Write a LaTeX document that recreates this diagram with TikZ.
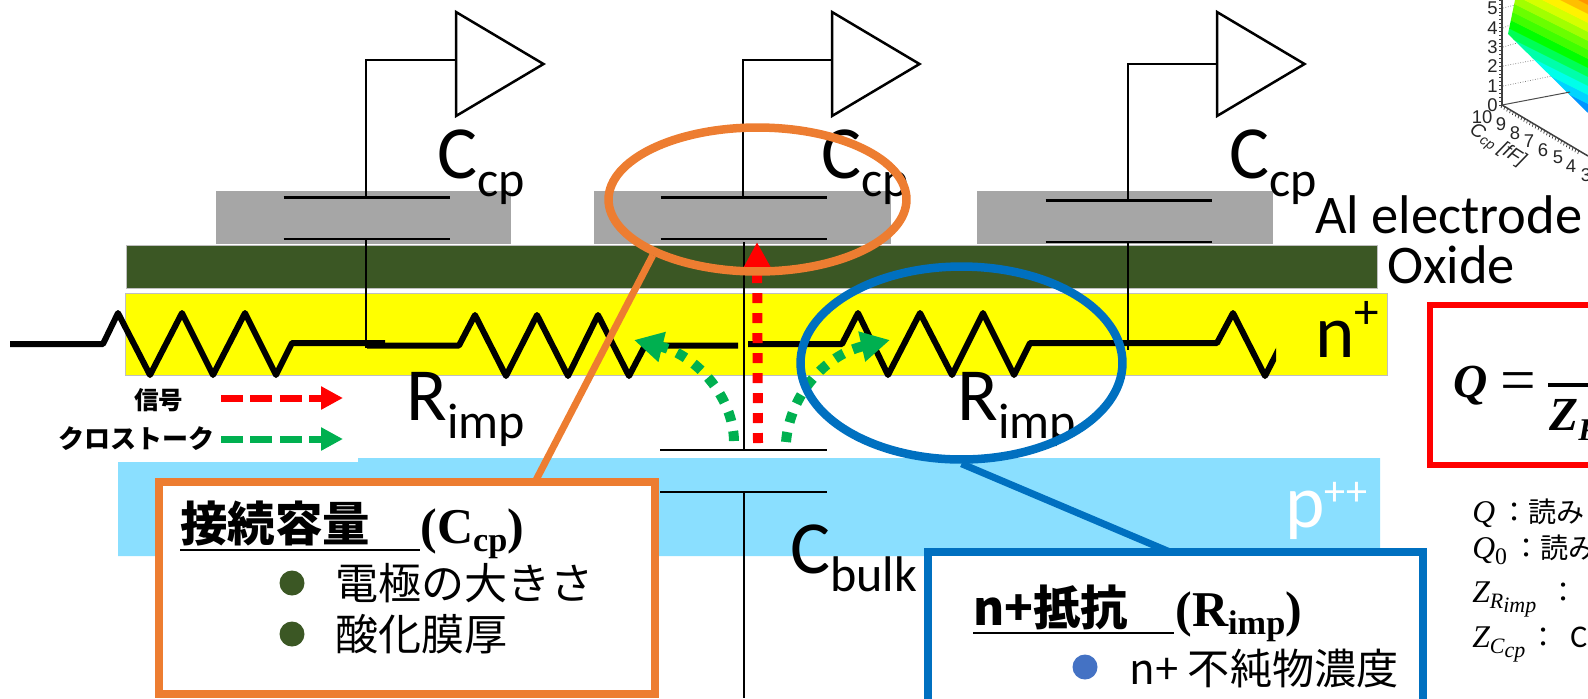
\documentclass[tikz,border=0pt]{standalone}
\usepackage{fontspec}
\setmainfont{Carlito}
\newfontfamily\jpface{Noto Sans CJK JP}
\newfontfamily\mathface{Liberation Serif}
\newfontfamily\plotface{Liberation Sans}
\usetikzlibrary{arrows.meta, shapes.geometric}
\definecolor{ringorange}{HTML}{ED7D31}
\definecolor{ringblue}{HTML}{0070C0}
\definecolor{oxidegreen}{HTML}{3B5724}
\definecolor{alugray}{HTML}{A6A6A6}
\definecolor{bulkblue}{HTML}{8ADFFF}
\definecolor{nplusyellow}{RGB}{255,255,0}
\definecolor{xtalkgreen}{HTML}{00B050}
\definecolor{dotblue}{HTML}{4472C4}
% text size in pt, drop in pt
\newcommand{\fsize}[1]{\fontsize{#1}{#1}\selectfont}
\newcommand{\dropped}[3]{\raisebox{-#1pt}{\fsize{#2}#3}}
\newcommand{\bigsub}[2]{{\fsize{42.7}#1}\dropped{10.8}{28.5}{#2}}
\tikzset{
  lab/.style={anchor=base west, inner sep=0pt, font=\fsize{31}},
  big/.style={anchor=base west, inner sep=0pt},
  plotnum/.style={inner sep=0pt, text=black!85, font=\plotface\fsize{10.5}},
  jpl/.style={anchor=west, inner sep=0pt, font=\jpface\fsize{24.5}},
  note/.style={anchor=base west, inner sep=0pt, font=\jpface\fsize{16}},
  notem/.style={anchor=base west, inner sep=0pt, font=\mathface\itshape\fsize{18}},
  head/.style={anchor=base west, inner sep=0pt, font=\jpface\bfseries\fsize{27}},
  headm/.style={anchor=base west, inner sep=0pt, font=\mathface\bfseries\fsize{28.5}},
  wire/.style={line width=0.05cm},
  zigzag/.style={line width=0.12cm, line join=round},
  dotted arrow/.style={line width=0.2cm, dash pattern=on 0.2cm off 0.2cm, -{Triangle[length=0.58cm,width=0.58cm]}},
  legend arrow/.style={line width=0.14cm, dash pattern=on 0.44cm off 0.15cm, -{Triangle[length=0.44cm,width=0.44cm]}},
  ring/.style={ellipse, draw, line width=0.17cm, inner sep=0pt},
  infobox/.style={rectangle, draw, fill=white, line width=0.17cm, anchor=north west, inner sep=0pt, outer sep=0pt},
  bullet/.style={circle, inner sep=0pt, minimum size=0.5cm}
}

\begin{document}
\begin{tikzpicture}[x=0.02cm, y=-0.02cm]
  \useasboundingbox (0,0) rectangle (1588,698);
  \clip (0,0) rectangle (1588,698);

  % --- Plot corner ---
  \begin{scope}
    \clip (1508,34) -- (1515,0) -- (1588,0) -- (1588,113) -- cycle;
    \foreach \bandy/\bandh in {73/205,64/190,55/175,46/160,37/140,28/120,19/105,10/95,1/82,-8/70,-17/57,-26/45,-35/35,-44/28} {
      \definecolor{bandc}{Hsb}{\bandh,1,1}
      \fill[bandc] (1500,\bandy-4) -- (1600,\bandy+46) -- (1600,\bandy+36.5) -- (1500,\bandy-13.5) -- cycle;
    }
  \end{scope}
  \draw[black!70, line width=0.02cm] (1502,105) -- (1570,92);
  \draw[black!75, line width=0.03cm] (1502,105) -- (1502,0);
  \draw[black!75, line width=0.03cm] (1502,105) -- (1588,156);
  \foreach \gridy/\gridx/\gride in {86/1552/76, 66/1535/60, 47/1517/43, 28/1510/25, 8/1515/5}
    \draw[black!50, line width=0.015cm, densely dotted] (1503,\gridy) -- (\gridx,\gride);
  \foreach \tk in {0,...,27} {
    \pgfmathsetmacro{\tky}{105-3.88*\tk}
    \draw[black!75, line width=0.015cm] (1502,\tky) -- (1499,\tky);
    \pgfmathsetmacro{\bx}{1502+2.84*\tk}
    \pgfmathsetmacro{\by}{105+1.7*\tk}
    \draw[black!75, line width=0.015cm] (\bx,\by) -- (\bx-1,\by+3);
  }
  \foreach \val/\valy in {0/105,1/86,2/66,3/47,4/28,5/8}
    \node[plotnum, anchor=east] (tick\val) at (1498,\valy) {\val};
  \node[plotnum] (base10) at (1482,117) {10};
  \node[plotnum] (base9) at (1501,124) {9};
  \node[plotnum] (base8) at (1515,133) {8};
  \node[plotnum] (base7) at (1529,141) {7};
  \node[plotnum] (base6) at (1543,150) {6};
  \node[plotnum] (base5) at (1558,157) {5};
  \node[plotnum] (base4) at (1571,166) {4};
  \node[plotnum] (base3) at (1586,175) {3};
  \node[plotnum, rotate=-33, font=\plotface\itshape\fsize{11}] (ccpaxis) at (1497,146) {C\dropped{1.5}{8}{cp} [fF]};

  % --- Layers ---
  \fill[bulkblue] (118,462) -- (358,462) -- (358,458) -- (1380,458) -- (1380,556) -- (118,556) -- cycle;
  \filldraw[fill=nplusyellow, draw=black!25, line width=0.015cm] (125,293) rectangle (1387,375);
  \filldraw[fill=oxidegreen, draw=black!25, line width=0.015cm] (126,245.5) rectangle (1377,288);
  \fill[alugray] (216,191) rectangle (511,243.5);
  \fill[alugray] (594,191) rectangle (891,243.5);
  \fill[alugray] (977,191) rectangle (1273,243.5);

  % --- Readout wires and capacitor plates ---
  \foreach \wx/\tx/\ty/\cy in {366/456/60/0, 743/832/60/0, 1128/1217/64/3} {
    \draw[wire] (\wx-1,\ty) -- (\tx,\ty);
    \draw[wire] (\wx,\ty) -- (\wx,197.5+\cy);
    \draw[wire, line join=miter] (\tx,12) -- (\tx+87.5,64) -- (\tx,116) -- cycle;
    \draw[wire] (\wx-82.5,197.5+\cy) -- (\wx+84,197.5+\cy);
    \draw[wire] (\wx-82.5,239+\cy) -- (\wx+84,239+\cy);
  }
  \draw[wire] (366,239) -- (366,348);
  \draw[wire] (744,242) -- (744,450);
  \draw[wire] (1128,242) -- (1128,350);
  \draw[wire] (660,450) -- (827,450);
  \draw[wire] (660,492) -- (827,492);
  \draw[wire] (744,492) -- (744,698);

  % --- Strip resistors ---
  \draw[zigzag] (10,344) -- (103,344) -- (118,313) -- (150,375) -- (182,313) -- (213,375) -- (245,313) -- (276,375) -- (292,343) -- (385,343);
  \draw[zigzag] (367,345.5) -- (459,345.5) -- (475,315) -- (506,376) -- (537,315) -- (568,376) -- (598,315) -- (629,376) -- (645,345.5) -- (738,345.5);
  \begin{scope}
    \clip (740,280) rectangle (1276,390);
    \draw[zigzag] (748,344) -- (842,344) -- (858,313) -- (888,375) -- (920,313) -- (952,375) -- (983,313) -- (1014,375) -- (1030,343) -- (1217,343) -- (1233,313) -- (1265,376) -- (1285,337);
  \end{scope}

  % --- Labels ---
  \node[big] (ccpa) at (437,178) {\bigsub{C}{cp}};
  \node[big] (ccpb) at (821,178) {\bigsub{C}{cp}};
  \node[big] (ccpc) at (1229,178) {\bigsub{C}{cp}};
  \node[big] (rimpa) at (406,420) {\bigsub{R}{imp}};
  \node[big] (rimpb) at (957,420) {\bigsub{R}{imp}};
  \node[big] (cbulk) at (790,573) {\bigsub{C}{bulk}};
  \node[lab] (allabel) at (1315,233) {Al electrode};
  \node[lab] (oxlabel) at (1387,283) {Oxide};
  \node[big] (nlabel) at (1315,357) {\fsize{42.7}n\raisebox{16pt}{\fsize{28}+}};
  \node[big, text=white] (plabel) at (1285,527) {\fsize{42.7}p\raisebox{12pt}{\fsize{24}++}};

  % --- Legend ---
  \node[jpl, font=\jpface\bfseries\fsize{14}] (sigleg) at (134,400) {信号};
  \node[jpl, font=\jpface\bfseries\fsize{14.8}] (xtalkleg) at (58,439) {クロストーク};
  \coordinate (sigfrom) at (221,398);
  \coordinate (sigto) at (343,398);
  \coordinate (xtalkfrom) at (221,439);
  \coordinate (xtalkto) at (343,439);
  \draw[legend arrow, red] (sigfrom) -- (sigto);
  \draw[legend arrow, xtalkgreen] (xtalkfrom) -- (xtalkto);

  % --- Signal and crosstalk arrows ---
  \coordinate (sigstart) at (758,443);
  \coordinate (sigend) at (757,242);
  \coordinate (xleftstart) at (734,441);
  \coordinate (xleftend) at (634,340);
  \coordinate (xrightstart) at (786,442);
  \coordinate (xrightend) at (890,340);
  \draw[dotted arrow, red] (sigstart) -- (sigend);
  \draw[dotted arrow, xtalkgreen] (xleftstart) .. controls (733,395) and (695,355) .. (xleftend);
  \draw[dotted arrow, xtalkgreen] (xrightstart) .. controls (790,395) and (825,355) .. (xrightend);

  % --- Rings and leaders ---
  \node[ring, draw=ringorange, minimum width=5.96cm, minimum height=2.88cm] (ccpring) at (757.5,199.5) {};
  \node[ring, draw=ringblue, minimum width=6.44cm, minimum height=3.86cm] (impring) at (961.5,363) {};
  \coordinate (ccpfoot) at (535,482);
  \coordinate (impfoot) at (1170,552);
  \draw[ringorange, line width=0.14cm] (ccpring.208) -- (ccpfoot);
  \draw[ringblue, line width=0.14cm] (impring.south) -- (impfoot);

  % --- Info boxes ---
  \node[infobox, draw=ringorange, minimum width=9.92cm, minimum height=4.24cm] (ccpbox) at (159,482) {};
  \node[infobox, draw=ringblue, minimum width=9.9cm, minimum height=4.5cm] (impbox) at (928,552) {};
  \node[head] (ccphead) at (180,541) {接続容量};
  \draw[line width=0.05cm] (180,550) -- (420,550);
  \node[headm] (ccpsym) at (420,543) {(C\dropped{5}{19.5}{cp})};
  \node[bullet, fill=oxidegreen] (ccpdota) at (292,583) {};
  \node[bullet, fill=oxidegreen] (ccpdotb) at (292,634) {};
  \node[jpl] (ccpita) at (335,583) {電極の大きさ};
  \node[jpl] (ccpitb) at (335,634) {酸化膜厚};
  \node[head] (imphead) at (973,625) {n+抵抗};
  \draw[line width=0.05cm] (973,633) -- (1174,633);
  \node[headm] (impsym) at (1175,626) {(R\dropped{5}{19.5}{imp})};
  \node[bullet, fill=dotblue] (impdot) at (1085,667) {};
  \node[jpl, font=\jpface\fsize{24}] (impit) at (1129,668) {n+ 不純物濃度};

  % --- Formula, cut by the edge ---
  \draw[red, line width=0.12cm] (1600,305) -- (1430,305) -- (1430,465) -- (1600,465);
  \node[anchor=base west, inner sep=0pt, font=\mathface\bfseries\itshape\fsize{27}] (qsym) at (1453,397) {Q};
  \node[anchor=base west, inner sep=0pt, font=\mathface\fsize{36}] (qeq) at (1500,401) {=};
  \draw[line width=0.07cm] (1548,385) -- (1600,385);
  \node[anchor=base west, inner sep=0pt, font=\mathface\bfseries\itshape\fsize{27}] (zsym) at (1549,430) {Z\dropped{6}{18}{R}};

  % --- Symbol list, cut by the edge ---
  \node[notem] (nq) at (1472,522) {Q};
  \node[note] (nqt) at (1500,522) {：読み};
  \node[notem] (nqz) at (1472,558) {Q\dropped{3.5}{13.5}{\upshape 0}};
  \node[note] (nqzt) at (1512,558) {：読み};
  \node[notem] (nzr) at (1472,602) {Z\dropped{3.5}{12.5}{R}\dropped{6}{12.5}{imp}};
  \node[note] (nzrt) at (1549,602) {：};
  \node[notem] (nzc) at (1472,647) {Z\dropped{3.5}{12.5}{C}\dropped{6}{12.5}{cp}};
  \node[note] (nzct) at (1529,647) {：};
  \node[anchor=base west, inner sep=0pt, font=\fsize{18}] (nzcc) at (1570,647) {C};
\end{tikzpicture}
\end{document}
